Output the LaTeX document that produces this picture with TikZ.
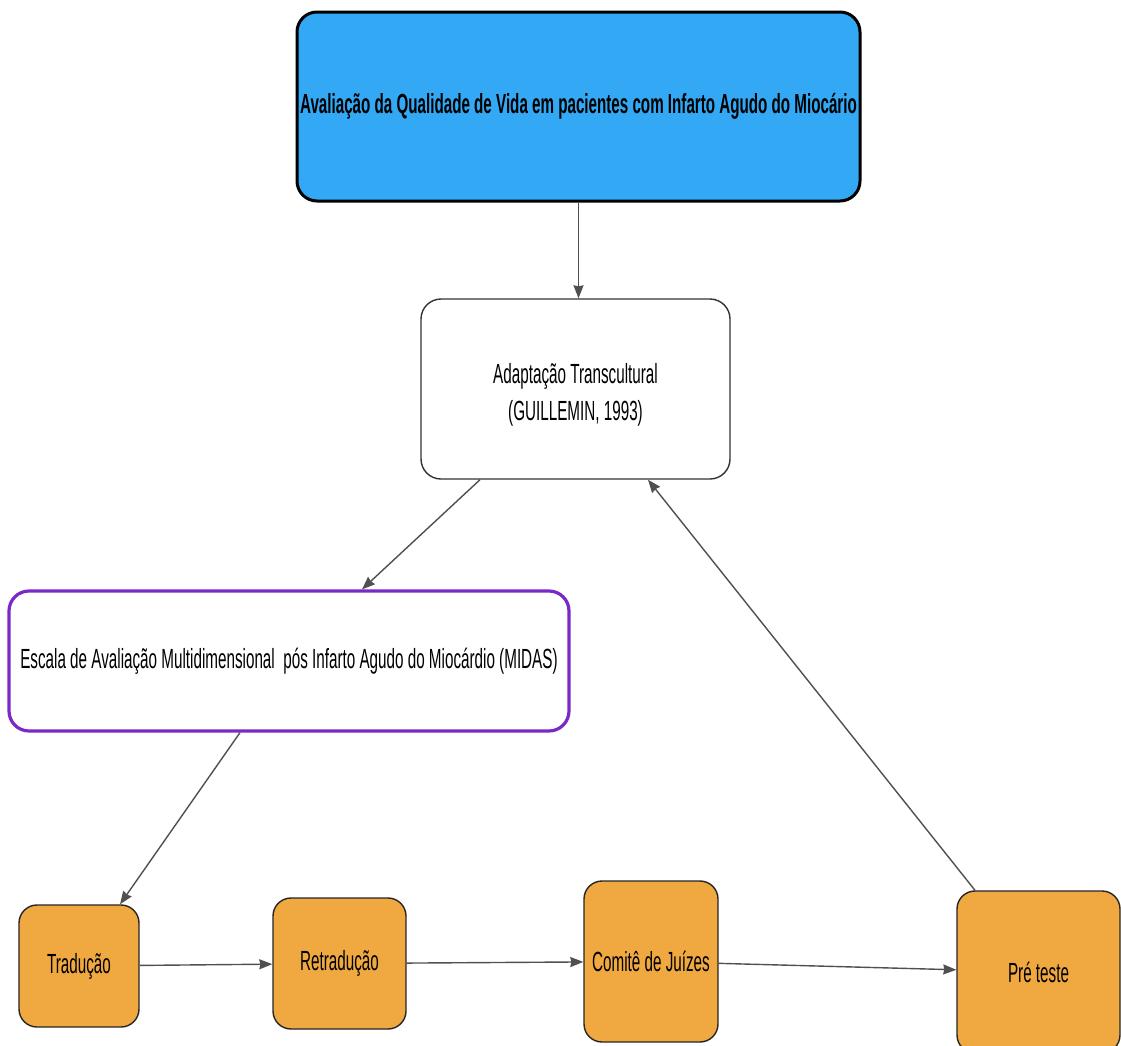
\documentclass[tikz,border=0pt]{standalone}
\usepackage{fontspec}
\setmainfont{Liberation Sans}[FakeStretch=0.55]
\usetikzlibrary{arrows.meta,calc}
\definecolor{topblue}{RGB}{51,168,245}
\definecolor{boxorange}{RGB}{240,168,64}
\definecolor{midpurple}{RGB}{123,40,200}
\definecolor{linegray}{RGB}{80,80,80}
\begin{document}
\begin{tikzpicture}[x=1pt,y=-1pt,
  base/.style={rounded corners=20pt,align=center,inner sep=0pt,
    font=\fontsize{27.7}{37}\selectfont},
  topbox/.style={base,draw=black,line width=3pt,fill=topblue,
    font=\fontsize{27.6}{30}\selectfont\bfseries},
  whitebox/.style={base,draw=black!80,line width=1.4pt,fill=white},
  purplebox/.style={base,draw=midpurple,line width=3.2pt,fill=white},
  orangebox/.style={base,draw=black!85,line width=1.4pt,fill=boxorange,rounded corners=18pt},
  conn/.style={draw=linegray,line width=1.4pt,-{Stealth[length=13pt,width=10pt,inset=1pt]}}
]
\clip (0,0) rectangle (1121,1045);
\fill[white] (0,0) rectangle (1121,1045);

\node[topbox,minimum width=563pt,minimum height=189pt] (top) at (578.5,106.5)
  {Avaliação da Qualidade de Vida em pacientes com Infarto Agudo do Miocário};
\node[whitebox,minimum width=309pt,minimum height=180pt] (adapt) at (575.5,389) {};
\node[font=\fontsize{27.7}{37}\selectfont,align=center,inner sep=0pt] (adapttext) at ([yshift=-6pt]adapt.center)
  {Adaptação Transcultural\\(GUILLEMIN, 1993)};
\node[purplebox,minimum width=560pt,minimum height=140pt] (midas) at (289,661)
  {Escala de Avaliação Multidimensional\ \ pós Infarto Agudo do Miocárdio (MIDAS)};
\node[orangebox,minimum width=120pt,minimum height=122pt] (trad) at (79,966) {Tradução};
\node[orangebox,minimum width=133pt,minimum height=131pt] (retrad) at (339.5,963.5) {Retradução};
\node[orangebox,minimum width=134pt,minimum height=161pt] (comite) at (651,961.5) {Comitê de Juízes};
\node[orangebox,minimum width=163pt,minimum height=162pt] (pre) at (1038.5,972) {Pré teste};

\draw[conn] (top.south) -- (top.south |- adapt.north);
\draw[conn] ([xshift=-95.5pt]adapt.south) -- ([xshift=73pt]midas.north);
\draw[conn] ([xshift=-49pt]midas.south) -- ([xshift=41pt]trad.north);
\draw[conn] (trad) -- (retrad);
\draw[conn] (retrad) -- (comite);
\draw[conn] (comite) -- (pre);
\draw[conn] ([xshift=-63.5pt]pre.north) -- ([xshift=72.5pt]adapt.south);
\end{tikzpicture}
\end{document}
